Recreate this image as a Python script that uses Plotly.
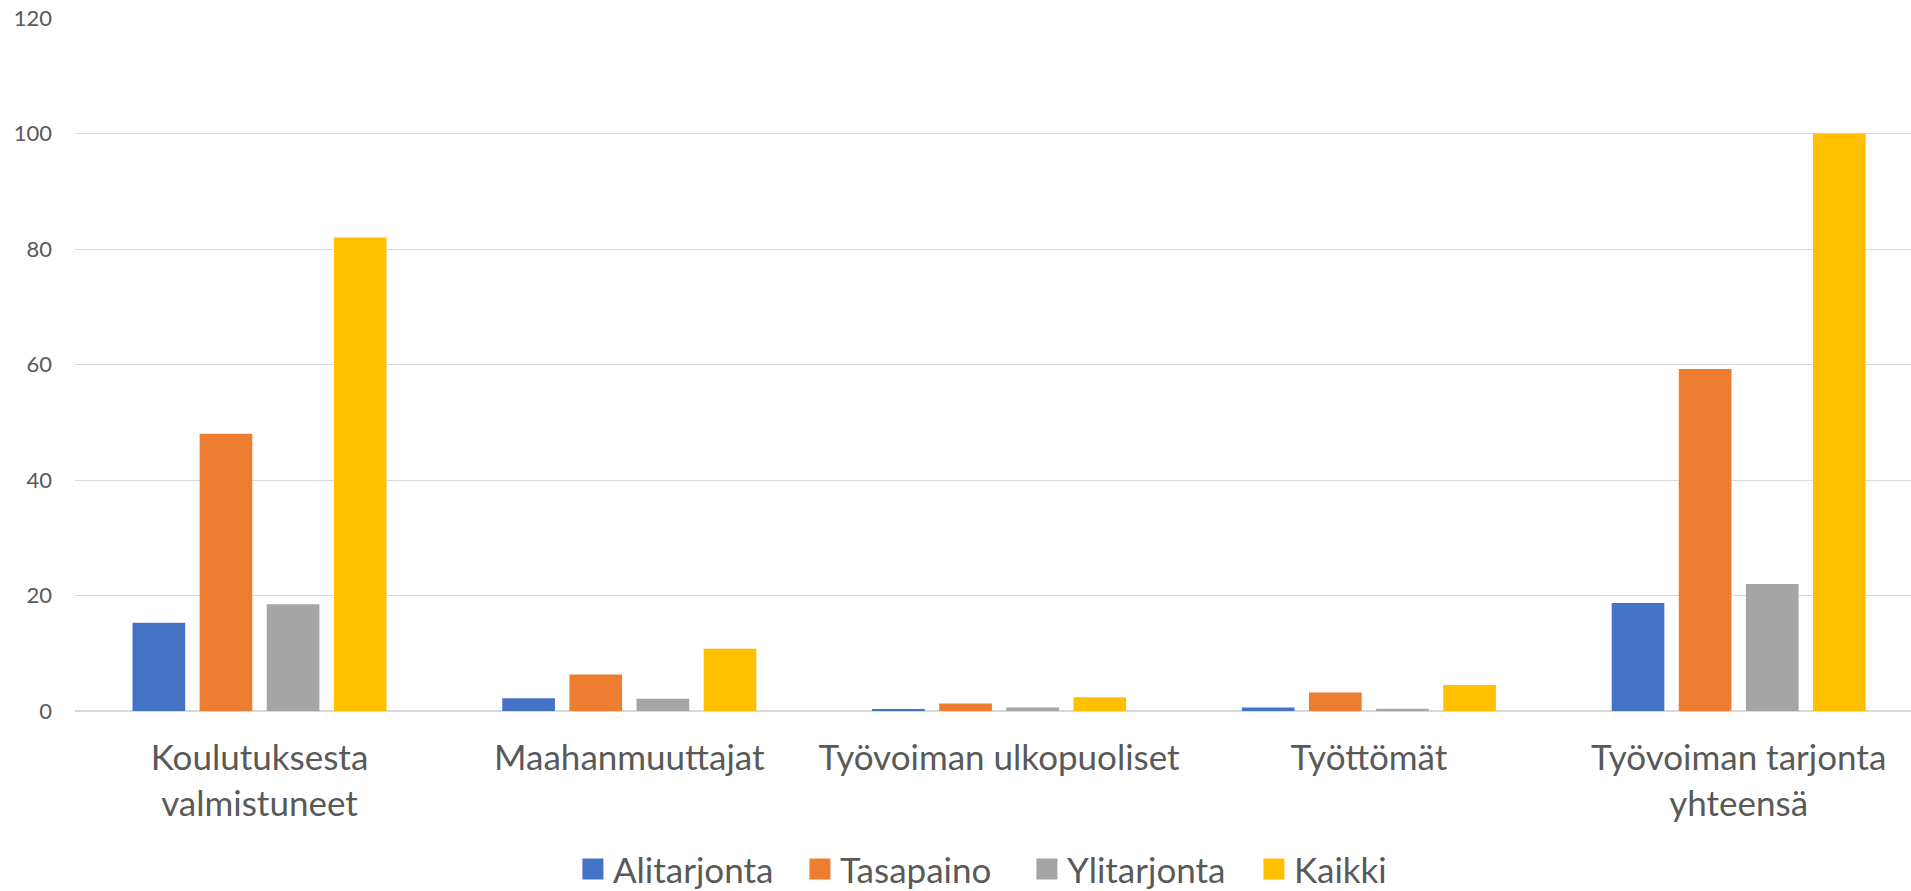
import plotly.graph_objects as go

categories = ["Koulutuksesta<br>valmistuneet", "Maahanmuuttajat", "Työvoiman ulkopuoliset",
              "Työttömät", "Työvoiman tarjonta<br>yhteensä"]
series_names = ["Alitarjonta", "Tasapaino", "Ylitarjonta", "Kaikki"]
alitarjonta = [15.3, 2.2, 0.3, 0.6, 18.7]
tasapaino = [48.0, 6.3, 1.3, 3.2, 59.2]
ylitarjonta = [18.5, 2.1, 0.6, 0.4, 22.0]
kaikki = [82.0, 10.8, 2.4, 4.5, 100.0]
y_ticks = [0, 20, 40, 60, 80, 100, 120]

colors = ["#4472C4", "#ED7D31", "#A5A5A5", "#FFC000"]
values = [alitarjonta, tasapaino, ylitarjonta, kaikki]

W, H = 1911, 891
left, right, top, bottom = 75, 0, 17.7, 180.3

fig = go.Figure()
for name, vals, col in zip(series_names, values, colors):
    fig.add_trace(go.Bar(x=categories, y=vals, name=name, marker_color=col,
                         marker_line_width=0, legendgroup=name, showlegend=False))
# legend entries with larger square swatches
for name, col in zip(series_names, colors):
    fig.add_trace(go.Scatter(x=[None], y=[None], mode="markers", name=name, legendgroup=name,
                             marker=dict(symbol="square", size=16, color=col,
                                         line=dict(width=5, color=col)),
                             showlegend=True, hoverinfo="skip"))

font_family = "Lato, 'Open Sans', sans-serif"
fig.update_layout(
    width=W, height=H, autosize=False,
    margin=dict(l=left, r=right, t=top, b=bottom, pad=0, autoexpand=False),
    paper_bgcolor="white", plot_bgcolor="white",
    barmode="group", bargap=0.274, bargroupgap=0.215,
    font=dict(family=font_family, color="#595959"),
    showlegend=True,
    legend=dict(orientation="h", x=0.2712, xanchor="left", y=-0.2285, yanchor="middle",
                font=dict(size=35, color="#595959"), entrywidth=182, entrywidthmode="pixels",
                traceorder="normal", bgcolor="rgba(0,0,0,0)"),
)
fig.update_xaxes(range=[-0.499, 4.466], showgrid=False, showline=False, zeroline=False,
                 tickfont=dict(size=35, color="#595959"), ticks="", ticklabelstandoff=23,
                 automargin=False, fixedrange=True)
fig.update_yaxes(range=[0, 120], tickvals=y_ticks, showgrid=True, gridcolor="#D9D9D9",
                 gridwidth=1.3, zeroline=True, zerolinecolor="#D9D9D9", zerolinewidth=2,
                 showline=False, tickfont=dict(size=22, color="#595959"), ticks="",
                 ticklabelstandoff=22, automargin=False, fixedrange=True)

fig.write_html("out.html", config={"displayModeBar": False},
               post_script="document.body.style.margin='0';document.body.style.overflow='hidden';")
